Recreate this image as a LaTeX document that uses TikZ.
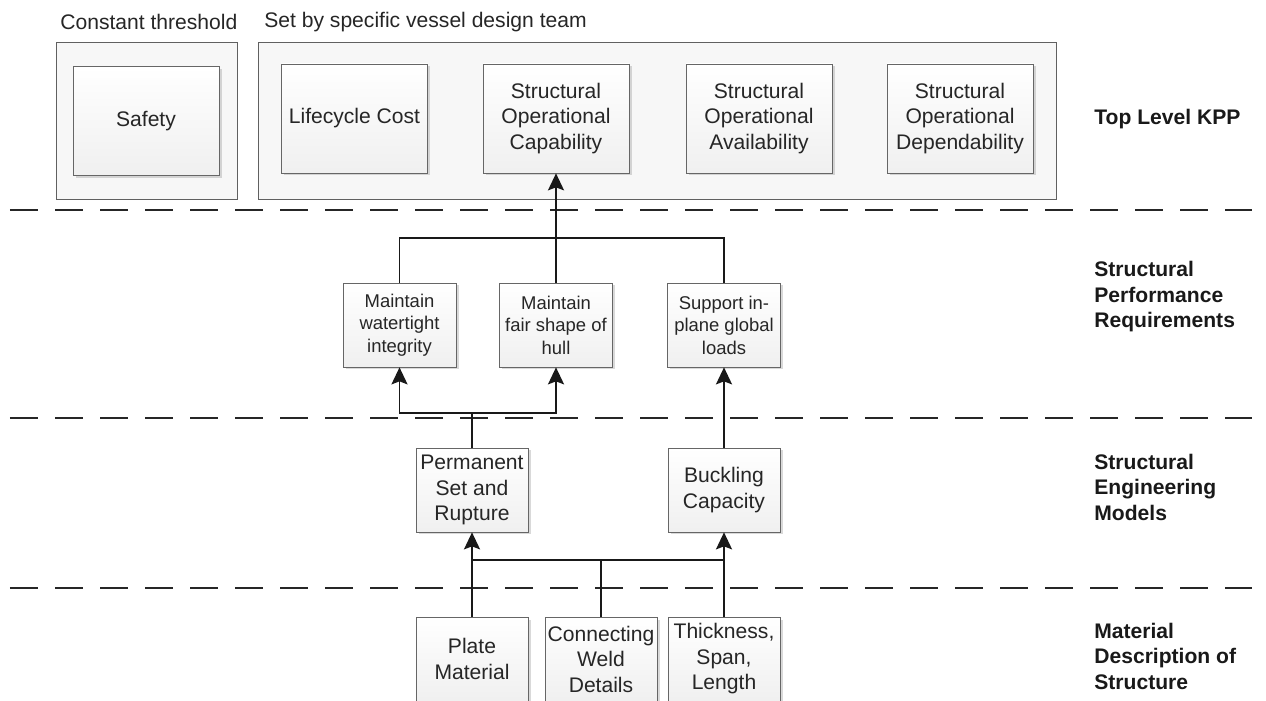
\documentclass[tikz,border=0pt]{standalone}
\usepackage{fontspec}
\setmainfont{Liberation Sans}
\usetikzlibrary{arrows.meta,shadows}
\tikzset{
  kpp/.style={draw=gray!80!black, top color=white, bottom color=gray!12,
    drop shadow={shadow xshift=0.05cm, shadow yshift=-0.05cm, opacity=0.3},
    minimum width=2.92cm, minimum height=2.18cm, align=center, inner sep=1pt,
    font=\fontsize{12}{14.5}\selectfont, text=black!85},
  req/.style={kpp, minimum width=2.26cm, minimum height=1.68cm,
    font=\fontsize{10.5}{12.8}\selectfont},
  mdl/.style={kpp, minimum width=2.24cm, minimum height=1.68cm},
  grp/.style={draw=gray!75!black, fill=gray!6},
  head/.style={anchor=west, inner sep=0pt, font=\fontsize{12}{14.5}\selectfont, text=black!85},
  level/.style={anchor=west, align=left, inner sep=0pt,
    font=\bfseries\fontsize{12}{14.5}\selectfont, text=black!90},
  lvlline/.style={line width=1.3pt, dash pattern=on 0.56cm off 0.34cm, black!85},
  link/.style={line width=1.1pt, black!90},
  up/.style={link, -{Stealth[length=0.34cm,width=0.32cm,inset=0.06cm]}}
}
\begin{document}
\begin{tikzpicture}
\useasboundingbox (0,0) rectangle (25.32,14);
\clip (0,0) rectangle (25.32,14);
%\draw[step=1cm,gray,very thin] (0,0) grid (25,14);
\node[head] (consthead) at (1.2,13.56) {Constant threshold};
\node[head] (teamhead) at (5.28,13.56) {Set by specific vessel design team};
\draw[grp] (1.12,10.02) rectangle (4.74,13.16);
\draw[grp] (5.16,10.02) rectangle (21.12,13.16);
% top level
\node[kpp] (safety) at (2.92,11.58) {Safety};
\node[kpp] (cost) at (7.09,11.63) {Lifecycle Cost};
\node[kpp] (soc) at (11.12,11.63) {Structural\\Operational\\Capability};
\node[kpp] (soa) at (15.18,11.63) {Structural\\Operational\\Availability};
\node[kpp] (sod) at (19.2,11.63) {Structural\\Operational\\Dependability};
% level separators
\draw[lvlline] (0.2,9.8) -- (25.04,9.8);
\draw[lvlline] (0.2,5.64) -- (25.04,5.64);
\draw[lvlline] (0.2,2.24) -- (25.04,2.24);
% requirements
\node[req] (wt) at (7.99,7.5) {Maintain\\watertight\\integrity};
\node[req] (fair) at (11.12,7.5) {Maintain\\fair shape of\\hull};
\node[req] (sup) at (14.48,7.5) {Support in-\\plane global\\loads};
% models
\node[mdl] (perm) at (9.44,4.2) {Permanent\\Set and\\Rupture};
\node[mdl] (buck) at (14.48,4.2) {Buckling\\Capacity};
% material
\node[mdl] (plate) at (9.44,0.82) {Plate\\Material};
\node[mdl] (weld) at (12.02,0.82) {Connecting\\Weld\\Details};
\node[mdl] (thick) at (14.48,0.82) {Thickness,\\Span,\\Length};
% connectors
\coordinate (topbus) at (11.12,9.24);
\coordinate (midbus) at (9.44,5.74);
\coordinate (lowbus) at (12.02,2.8);
\draw[link] (wt.north) |- (topbus) -| (sup.north);
\draw[up] (fair.north) -- (soc.south);
\draw[link] (perm.north) -- (midbus);
\draw[up] (midbus) -| (wt.south);
\draw[up] (midbus) -| (fair.south);
\draw[up] (buck.north) -- (sup.south);
\draw[up] (plate.north) -- (perm.south);
\draw[up] (thick.north) -- (buck.south);
\draw[link] (weld.north) -- (lowbus);
\draw[link] (plate |- lowbus) -- (thick |- lowbus);
% level names
\node[level] (lvltop) at (21.88,11.62) {Top Level KPP};
\node[level] (lvlreq) at (21.88,8.06) {Structural\\Performance\\Requirements};
\node[level] (lvlmdl) at (21.88,4.26) {Structural\\Engineering\\Models};
\node[level] (lvlmat) at (21.88,0.88) {Material\\Description of\\Structure};
\end{tikzpicture}
\end{document}
